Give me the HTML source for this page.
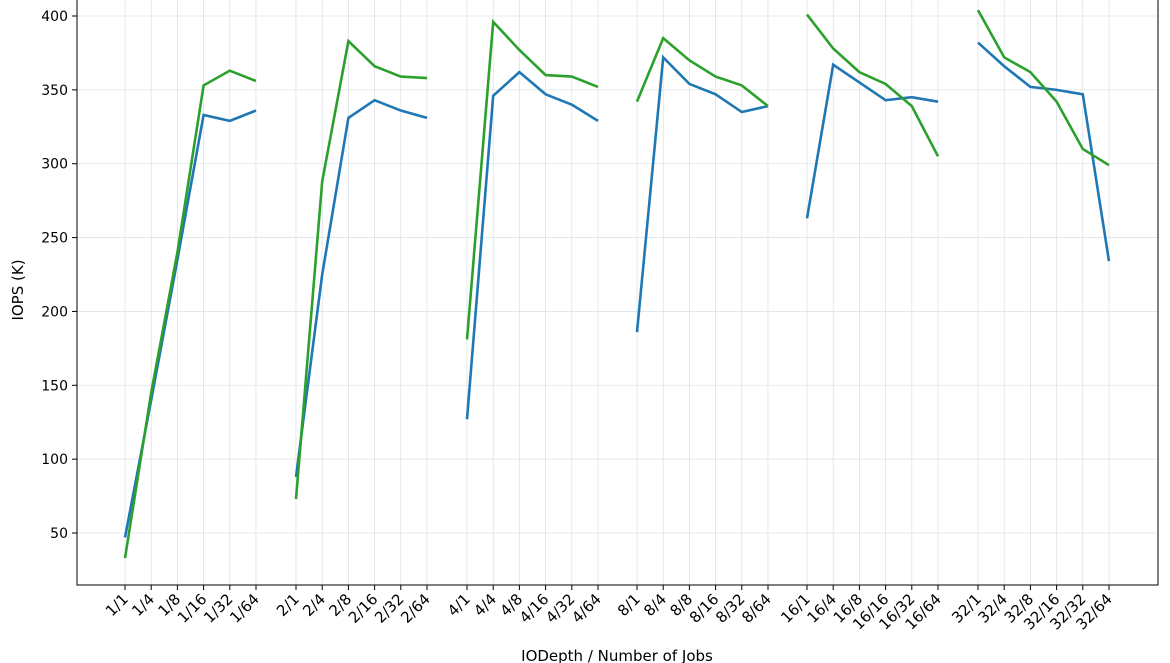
<!DOCTYPE html>
<html><head><meta charset="utf-8"><style>body{margin:0;background:#fff}svg{display:block}text{font-family:"DejaVu Sans","Liberation Sans",sans-serif;fill:#000}</style></head>
<body>
<svg id="s" width="1170" height="663" xmlns="http://www.w3.org/2000/svg"></svg>
<script>
const s=document.getElementById('s');
const L=77,R=1158,B=585,T=-5;
const y=v=>16+(400-v)*517/350;
const gs=[125,296,467,637,807,978],st=26.2;
const jobs=['1','4','8','16','32','64'],io=['1','2','4','8','16','32'];
const blue=[[47,140,235,333,329,336],[88,225,331,343,336,331],[127,346,362,347,340,329],[186,372,354,347,335,339],[263,367,355,343,345,342],[382,366,352,350,347,234]];
const green=[[33,145,240,353,363,356],[73,288,383,366,359,358],[181,396,377,360,359,352],[342,385,370,359,353,339],[401,378,362,354,339,305],[404,372,362,342,310,299]];
let h='';
for(let v=50;v<=400;v+=50){const yy=y(v);h+=`<line x1="${L}" x2="${R}" y1="${yy}" y2="${yy}" stroke="#dde3ea" stroke-width="0.8"/><line x1="${L-5}" x2="${L}" y1="${yy}" y2="${yy}" stroke="#000"/><text x="${L-9}" y="${yy+5}" font-size="14" text-anchor="end">${v}</text>`;}
for(let g=0;g<6;g++)for(let j=0;j<6;j++){const x=gs[g]+j*st;h+=`<line x1="${x}" x2="${x}" y1="${T}" y2="${B}" stroke="#dde3ea" stroke-width="0.8"/><line x1="${x}" x2="${x}" y1="${B}" y2="${B+5}" stroke="#000"/><text transform="translate(${x+4},${B+15}) rotate(-45)" font-size="15" text-anchor="end">${io[g]}/${jobs[j]}</text>`;}
function line(d,c){for(let g=0;g<6;g++){h+=`<polyline fill="none" stroke="${c}" stroke-width="2.6" points="${d[g].map((v,j)=>(gs[g]+j*st)+','+y(v)).join(' ')}"/>`;}}
line(blue,'#1f77b4');line(green,'#2ca02c');
h+=`<rect x="${L}" y="${T}" width="${R-L}" height="${B-T}" fill="none" stroke="#000" stroke-width="1"/>`;
h+=`<text x="617" y="661" font-size="15" text-anchor="middle">IODepth / Number of Jobs</text>`;
h+=`<text transform="translate(23,290) rotate(-90)" font-size="15" text-anchor="middle">IOPS (K)</text>`;
s.innerHTML=h;
</script>
</body></html>
